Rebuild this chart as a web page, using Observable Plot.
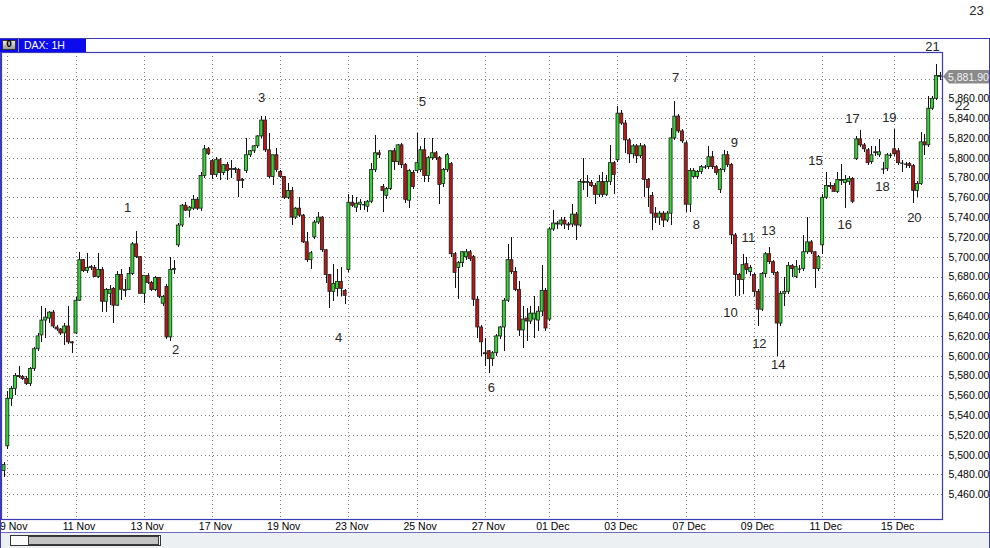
<!DOCTYPE html>
<html><head><meta charset="utf-8">
<script src="https://cdn.jsdelivr.net/npm/d3@7"></script>
<script src="https://cdn.jsdelivr.net/npm/@observablehq/plot@0.6"></script>
<style>
html,body{margin:0;padding:0;background:#fff;}
#wrap{position:relative;width:990px;height:548px;overflow:hidden;font-family:"Liberation Sans",Arial,sans-serif;}
#wrap svg{position:absolute;left:0;top:0;}
.ov{position:absolute;box-sizing:border-box;}
</style></head><body><div id="wrap"></div>
<script>
// ---- data (bar index -1 .. 246, hourly DAX bars) ----
const firstBar = -1;
const opens = [5484,
5509,5557,5567,5580,5579,5577,5572,5587,5607,5621,
5636,5638,5644,5629,5627,5623,5630,5614,5623,5656,
5697,5686,5689,5689,5680,5687,5655,5663,5668,5651,
5682,5666,5667,5683,5713,5700,5663,5681,5674,5667,
5679,5653,5670,5619,5687,5712,5732,5752,5747,5749,
5758,5749,5782,5809,5797,5783,5798,5785,5793,5788,
5789,5788,5777,5787,5803,5807,5812,5822,5838,5808,
5781,5803,5786,5781,5760,5767,5740,5749,5742,5715,
5697,5720,5735,5740,5707,5682,5665,5668,5675,5666,
5687,5755,5750,5753,5753,5751,5756,5788,5805,5771,
5762,5769,5807,5796,5813,5793,5757,5785,5787,5788,
5808,5782,5800,5805,5800,5774,5788,5794,5703,5689,
5694,5700,5705,5700,5657,5629,5603,5605,5597,5603,
5620,5629,5656,5697,5685,5667,5626,5638,5635,5637,
5636,5645,5666,5637,5728,5734,5733,5737,5733,5733,
5743,5732,5776,5775,5775,5772,5763,5776,5763,5776,
5795,5798,5845,5835,5818,5804,5812,5802,5812,5778,
5762,5744,5740,5744,5737,5744,5820,5842,5827,5815,
5753,5781,5781,5786,5791,5791,5801,5791,5768,5788,
5803,5793,5722,5682,5677,5693,5685,5682,5665,5647,
5683,5703,5695,5684,5633,5663,5665,5691,5680,5688,
5688,5705,5715,5705,5688,5712,5760,5772,5772,5766,
5778,5775,5776,5779,5799,5819,5813,5808,5796,5806,
5803,5789,5789,5803,5809,5807,5795,5794,5794,5792,
5767,5774,5816,5813,5850,5860,5883];
const highs = [5493,
5564,5569,5583,5590,5581,5579,5589,5609,5623,5650,
5648,5645,5646,5631,5628,5633,5650,5615,5659,5705,
5698,5704,5692,5692,5704,5690,5668,5671,5669,5686,
5688,5677,5690,5715,5726,5701,5681,5684,5675,5681,
5680,5661,5672,5700,5697,5734,5753,5755,5751,5762,
5760,5786,5813,5811,5799,5801,5800,5794,5796,5798,
5791,5790,5780,5820,5808,5813,5823,5842,5842,5825,
5803,5810,5788,5782,5774,5770,5750,5760,5743,5725,
5706,5737,5745,5741,5708,5683,5693,5688,5690,5667,
5763,5762,5760,5758,5756,5757,5795,5823,5808,5773,
5770,5808,5810,5814,5815,5795,5789,5788,5825,5812,
5820,5802,5820,5807,5802,5790,5805,5796,5705,5696,
5706,5708,5707,5702,5660,5631,5618,5606,5605,5622,
5630,5658,5713,5720,5690,5675,5650,5648,5650,5660,
5650,5692,5668,5730,5747,5736,5740,5740,5735,5753,
5745,5778,5800,5783,5777,5774,5783,5786,5783,5813,
5797,5852,5848,5838,5820,5814,5814,5815,5814,5780,
5765,5750,5746,5746,5746,5830,5857,5844,5829,5817,
5790,5790,5788,5793,5793,5812,5807,5793,5790,5808,
5807,5795,5724,5684,5703,5700,5692,5684,5667,5685,
5705,5710,5697,5686,5665,5680,5695,5693,5697,5692,
5722,5740,5717,5706,5702,5763,5786,5775,5774,5786,
5794,5783,5782,5781,5822,5828,5815,5810,5812,5812,
5819,5796,5805,5805,5829,5810,5798,5796,5796,5794,
5776,5826,5824,5862,5862,5895,5887];
const lows = [5477,
5506,5549,5560,5577,5575,5570,5569,5585,5605,5614,
5618,5633,5628,5625,5621,5611,5612,5603,5622,5655,
5685,5684,5687,5679,5678,5644,5644,5651,5633,5650,
5656,5659,5666,5682,5699,5663,5653,5672,5665,5665,
5658,5650,5617,5615,5683,5710,5730,5746,5740,5747,
5747,5746,5780,5803,5778,5781,5777,5783,5777,5780,
5785,5760,5769,5785,5801,5805,5810,5820,5806,5780,
5772,5786,5780,5758,5758,5732,5738,5740,5714,5695,
5688,5718,5733,5705,5673,5648,5655,5660,5660,5652,
5685,5750,5745,5747,5747,5745,5754,5786,5800,5745,
5758,5767,5788,5793,5790,5754,5749,5768,5785,5786,
5775,5775,5798,5798,5753,5770,5786,5700,5668,5657,
5690,5697,5696,5650,5618,5600,5590,5583,5590,5600,
5617,5605,5654,5683,5665,5620,5608,5615,5632,5618,
5625,5640,5625,5635,5726,5728,5731,5728,5727,5730,
5717,5730,5767,5760,5770,5753,5760,5760,5761,5772,
5763,5796,5833,5805,5795,5800,5795,5800,5760,5750,
5727,5734,5732,5730,5735,5732,5818,5825,5815,5745,
5745,5779,5778,5784,5789,5789,5789,5783,5764,5786,
5791,5713,5660,5660,5662,5683,5681,5660,5630,5645,
5680,5693,5682,5600,5630,5650,5662,5680,5678,5684,
5686,5703,5703,5668,5686,5703,5758,5768,5765,5764,
5772,5749,5772,5754,5798,5811,5806,5793,5794,5802,
5801,5784,5787,5800,5802,5793,5786,5790,5790,5754,
5760,5772,5803,5811,5848,5858,5878];
const closes = [5490,
5557,5567,5580,5579,5577,5572,5587,5607,5620,5636,
5639,5644,5630,5627,5623,5630,5614,5613,5656,5697,
5686,5689,5690,5680,5687,5655,5667,5667,5651,5682,
5667,5667,5683,5713,5700,5663,5681,5674,5667,5679,
5660,5660,5619,5687,5688,5732,5752,5747,5750,5758,
5749,5782,5809,5804,5783,5798,5785,5793,5787,5789,
5788,5777,5778,5803,5807,5812,5822,5838,5808,5781,
5803,5788,5781,5760,5767,5740,5749,5742,5715,5697,
5704,5735,5740,5707,5682,5665,5673,5675,5668,5661,
5755,5752,5754,5755,5753,5756,5788,5805,5803,5767,
5769,5807,5796,5813,5793,5758,5787,5771,5795,5808,
5782,5800,5805,5800,5773,5788,5803,5703,5684,5694,
5705,5705,5698,5657,5629,5614,5602,5597,5603,5620,
5629,5656,5697,5685,5667,5626,5637,5635,5643,5643,
5645,5666,5628,5728,5734,5733,5737,5733,5732,5743,
5732,5776,5775,5776,5772,5763,5776,5763,5776,5795,
5783,5845,5835,5818,5804,5812,5802,5812,5778,5770,
5744,5740,5744,5737,5744,5820,5842,5827,5817,5753,
5787,5787,5786,5791,5791,5801,5791,5785,5788,5803,
5793,5722,5682,5677,5692,5687,5689,5665,5647,5683,
5703,5695,5684,5633,5663,5665,5691,5688,5690,5688,
5705,5715,5705,5688,5700,5760,5772,5771,5766,5778,
5777,5778,5779,5756,5819,5813,5809,5795,5803,5805,
5806,5789,5803,5803,5804,5795,5795,5794,5792,5767,
5774,5816,5813,5850,5860,5883,5881.9];

const dayTickIndex = [0,18,36,54,72,90,108,126,143,161,179,197,215,234];
const dayTickLabels = ["09 Nov","11 Nov","13 Nov","17 Nov","19 Nov","23 Nov","25 Nov","27 Nov","01 Dec","03 Dec","07 Dec","09 Dec","11 Dec","15 Dec"];
const priceTicks = d3.range(5460, 5861, 20);
const priceGrid = d3.range(5460, 5881, 20);
const waveText = ["1","2","3","4","5","6","7","8","9","10","11","12","13","14","15","16","17","18","19","20","21","22","23"];
const waveBar = [31.6,44.3,67.0,87.3,109.4,127.6,176.2,181.7,191.7,190.7,195.4,198.3,200.7,203.3,213.1,220.8,222.9,230.8,232.6,239.2,244.0,251.9,255.6];
const wavePrice = [5750,5606,5861,5619,5857,5568,5881,5733,5816,5644,5720,5613,5727,5591,5797,5733,5840,5771,5841,5740,5912,5853,5949];
const lastPrice = 5881.90;
const symbolName = "DAX: 1H";

// ---- build tables ----
const bars = opens.map((o, i) => ({k: i + firstBar, open: o, high: highs[i], low: lows[i], close: closes[i]}));
const waves = waveText.map((t, i) => ({t, x: waveBar[i], y: wavePrice[i]}));
const UP = "#33d633", DOWN = "#b81818";

const chart = Plot.plot({
  width: 990, height: 548,
  marginLeft: 1, marginRight: 48, marginTop: 52, marginBottom: 29,
  style: {fontFamily: "Liberation Sans, Arial, sans-serif", fontSize: "10.5px", background: "white", color: "#000", overflow: "visible"},
  x: {domain: [-1.6623, 246.62], ticks: dayTickIndex, tickFormat: v => dayTickLabels[dayTickIndex.indexOf(v)], tickSize: 0, tickPadding: 3, label: null},
  y: {domain: [5435.05, 5906.77], axis: "right", ticks: priceTicks, tickFormat: d3.format(",.2f"), tickSize: 0, tickPadding: 6, label: null},
  marks: [
    Plot.ruleY(priceGrid, {stroke: "#7a7a7a", strokeDasharray: "1 3", shapeRendering: "crispEdges"}),
    Plot.ruleX(dayTickIndex, {stroke: "#7a7a7a", strokeDasharray: "1 3", shapeRendering: "crispEdges"}),
    Plot.ruleX(bars, {x: "k", y1: "low", y2: "high", stroke: "#111", strokeWidth: 1, shapeRendering: "crispEdges"}),
    Plot.rect(bars.filter(d => Math.abs(d.close - d.open) >= 0.8), {
      x1: d => d.k - 0.4, x2: d => d.k + 0.4, y1: "open", y2: "close",
      fill: d => d.close >= d.open ? UP : DOWN, stroke: "#1b1b1b", strokeWidth: 0.8
    }),
    Plot.ruleY(bars.filter(d => Math.abs(d.close - d.open) < 0.8), {
      y: "close", x1: d => d.k - 0.45, x2: d => d.k + 0.45, stroke: "#111", strokeWidth: 1.2
    }),
    Plot.frame({stroke: "#3b3bb3", strokeWidth: 1.2}),
    Plot.text(waves, {x: "x", y: "y", text: "t", fontSize: 13, fill: "#262626"})
  ]
});
d3.select(chart).selectAll('[aria-label^="x-axis"] text').attr("dx", 3);

const wrap = document.getElementById("wrap");
wrap.appendChild(chart);

function ov(css, html) {
  const d = document.createElement("div");
  d.className = "ov";
  d.style.cssText = css;
  if (html != null) d.innerHTML = html;
  wrap.appendChild(d);
  return d;
}
// window chrome
ov("left:0;top:38px;width:990px;height:1px;background:#3b3bb3;");
ov("left:0;top:38px;width:1px;height:510px;background:#3b3bb3;");
ov("left:989px;top:38px;width:1px;height:510px;background:#3b3bb3;");
ov("left:0;top:39px;width:86px;height:13px;background:#0b0bee;");
ov("left:2px;top:40px;width:14px;height:10px;background:linear-gradient(#e8e8e8,#9a9a9a);border:1px solid #333;font:bold 8px/8px 'DejaVu Sans',sans-serif;color:#000;text-align:center;", "0");
ov("left:18px;top:39px;width:1px;height:13px;background:#8888ff;");
ov("left:24px;top:39px;height:13px;font:10.5px/13px 'Liberation Sans',Arial,sans-serif;color:#fff;white-space:nowrap;", symbolName);
ov("left:1px;top:532px;width:988px;height:16px;background:#edf0f2;border-top:1px solid #6b6bc0;");
ov("left:10px;top:535px;width:151px;height:11px;background:#fbfbfb;border:1px solid #333;");
ov("left:28px;top:536px;width:131px;height:9px;background:#c3c3c3;border:1px solid #3a3a3a;");
// last price tag
const yTag = chart.scale("y").apply(lastPrice);
ov(`left:943px;top:${yTag - 7}px;width:46px;height:14px;background:#8a8a8a;clip-path:polygon(0 50%,6px 0,100% 0,100% 100%,6px 100%);font:10.5px/14px 'Liberation Sans',Arial,sans-serif;color:#f2f2f2;padding-left:5px;white-space:nowrap;`, d3.format(",.2f")(lastPrice));
</script></body></html>
